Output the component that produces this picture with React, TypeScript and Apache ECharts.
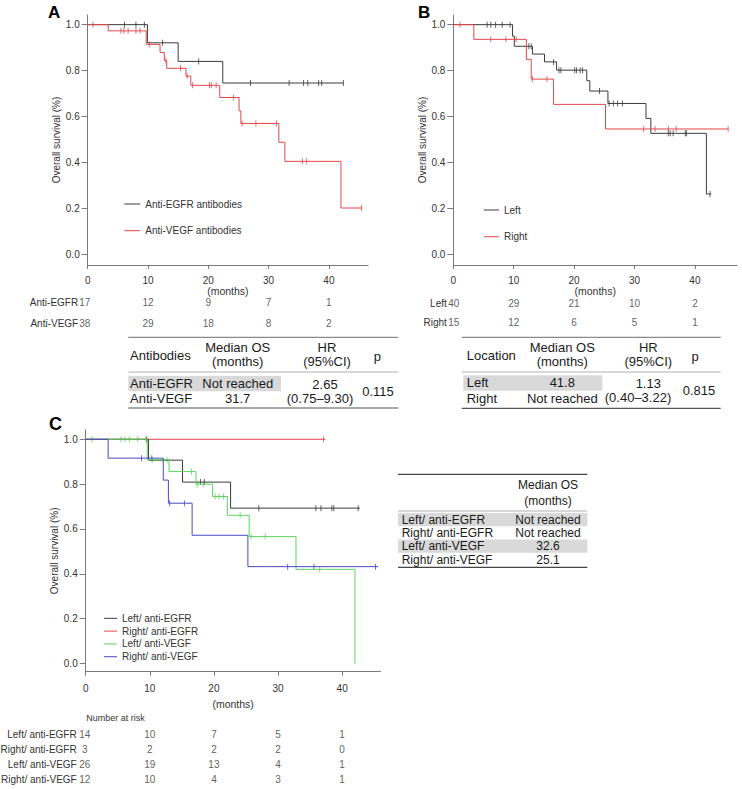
import React, { useEffect, useRef } from "react";
import * as echarts from "echarts";

// ---------- Panel A : antibodies ----------
const A_EGFR_T = [0, 9.9, 15.0, 22.4, 42.4];
const A_EGFR_S = [1, 0.921, 0.84, 0.746, 0.746];
const A_EGFR_C = [6.1, 8.0, 9.4, 12.4, 18.4, 27.0, 33.4, 35.8, 36.5, 38.3, 38.8, 42.4];
const A_VEGF_T = [0, 3.4, 9.7, 12.0, 12.7, 13.1, 16.3, 17.1, 21.9, 25.1, 25.4, 31.7, 32.7, 42.0, 45.4];
const A_VEGF_S = [1, 0.973, 0.914, 0.879, 0.844, 0.81, 0.776, 0.736, 0.683, 0.625, 0.57, 0.488, 0.405, 0.202, 0.202];
const A_VEGF_C = [0.9, 5.5, 6.0, 6.7, 8.0, 8.7, 10.2, 12.95, 15.4, 16.5, 17.4, 20.2, 20.5, 21.3, 24.2, 25.6, 27.9, 31.3, 35.6, 36.3, 45.4];
const A_NAMES = ["Anti-EGFR antibodies", "Anti-VEGF antibodies"];
const A_RISK_ROWS = ["Anti-EGFR", "Anti-VEGF"];
const A_RISK = [
  [17, 12, 9, 7, 1],
  [38, 29, 18, 8, 2],
];
const A_TABLE_HEAD = ["Antibodies", "Median OS\n(months)", "HR\n(95%CI)", "p"];
const A_TABLE_ROWS = [
  ["Anti-EGFR", "Not reached"],
  ["Anti-VEGF", "31.7"],
];
const A_HR = ["2.65", "(0.75–9.30)"];
const A_P = "0.115";

// ---------- Panel B : location ----------
const B_LEFT_T = [0, 9.8, 10.1, 13.1, 15.1, 17.1, 22.1, 22.6, 25.6, 31.9, 32.7, 41.9, 42.7];
const B_LEFT_S = [1, 0.95, 0.906, 0.872, 0.838, 0.802, 0.756, 0.711, 0.657, 0.592, 0.527, 0.263, 0.263];
const B_LEFT_C = [5.6, 6.2, 7.0, 8.1, 9.4, 12.5, 12.9, 16.6, 17.5, 17.8, 20.1, 20.4, 21.0, 21.4, 24.2, 25.8, 26.5, 27.2, 28.0, 35.6, 35.9, 36.4, 38.4, 38.6, 42.5];
const B_RIGHT_T = [0, 3.4, 12.1, 12.9, 16.6, 25.2, 45.5];
const B_RIGHT_S = [1, 0.936, 0.849, 0.763, 0.653, 0.546, 0.546];
const B_RIGHT_C = [1.1, 6.2, 8.7, 10.4, 13.1, 15.5, 31.5, 33.4, 35.6, 36.9, 45.5];
const B_NAMES = ["Left", "Right"];
const B_RISK_ROWS = ["Left", "Right"];
const B_RISK = [
  [40, 29, 21, 10, 2],
  [15, 12, 6, 5, 1],
];
const B_TABLE_HEAD = ["Location", "Median OS\n(months)", "HR\n(95%CI)", "p"];
const B_TABLE_ROWS = [
  ["Left", "41.8"],
  ["Right", "Not reached"],
];
const B_HR = ["1.13", "(0.40–3.22)"];
const B_P = "0.815";

// ---------- Panel C : location x antibody ----------
const C_LE_T = [0, 9.8, 15.1, 22.6, 42.8];
const C_LE_S = [1, 0.907, 0.809, 0.693, 0.693];
const C_LE_C = [9.5, 17.9, 18.5, 27.0, 35.9, 36.7, 38.4, 38.7, 42.5];
const C_RE_T = [0, 37.4];
const C_RE_S = [1, 1];
const C_RE_C = [37.1];
const C_LV_T = [0, 9.6, 13.0, 17.2, 19.8, 22.1, 25.5, 32.8, 42.0];
const C_LV_S = [1, 0.909, 0.856, 0.8, 0.745, 0.661, 0.566, 0.42, 0];
const C_LV_C = [1.0, 5.5, 6.1, 6.8, 8.1, 9.4, 10.4, 12.7, 16.5, 17.4, 18.4, 20.2, 20.8, 21.5, 24.1, 25.8, 28.0, 36.5];
const C_RV_T = [0, 3.5, 12.1, 12.9, 16.6, 25.3, 45.6];
const C_RV_S = [1, 0.916, 0.818, 0.715, 0.572, 0.432, 0.432];
const C_RV_C = [8.7, 10.3, 13.1, 15.4, 31.5, 35.6, 45.2];
const C_NAMES = ["Left/ anti-EGFR", "Right/ anti-EGFR", "Left/ anti-VEGF", "Right/ anti-VEGF"];
const C_RISK = [
  [14, 10, 7, 5, 1],
  [3, 2, 2, 2, 0],
  [26, 19, 13, 4, 1],
  [12, 10, 4, 3, 1],
];
const C_TABLE_HEAD = "Median OS\n(months)";
const C_TABLE_VALUES = ["Not reached", "Not reached", "32.6", "25.1"];

const RISK_T = [0, 10, 20, 30, 40];
const X_TICKS = [0, 10, 20, 30, 40];
const Y_TICKS = [0, 0.2, 0.4, 0.6, 0.8, 1.0];

// ---------- styles ----------
const FONT = '"Liberation Sans", Arial, Helvetica, sans-serif';
const AXIS = "#7a7a7a";
const TXT = "#333333";
const BLACK = "#3c3c3c";
const RED = "#e5474b";
const GREEN = "#5fd35f";
const BLUE = "#4848c4";
const GRAY_FILL = "#d9d9d9";

function survAt(T: number[], S: number[], t: number) {
  let v = S[0];
  for (let i = 0; i < T.length; i++) if (T[i] <= t) v = S[i];
  return v;
}

function km(name: string, T: number[], S: number[], C: number[], color: string, idx: number) {
  return [
    {
      type: "line",
      name,
      xAxisIndex: idx,
      yAxisIndex: idx,
      data: T.map((t, i) => [t, S[i]]),
      step: "end",
      showSymbol: false,
      symbol: "none",
      lineStyle: { color, width: 1 },
      itemStyle: { color },
      silent: true,
    },
    {
      type: "scatter",
      xAxisIndex: idx,
      yAxisIndex: idx,
      data: C.map((t) => [t, survAt(T, S, t)]),
      symbol: "rect",
      symbolSize: [1, 6],
      itemStyle: { color },
      silent: true,
    },
  ];
}

function risk(counts: number[][], idx: number, firstShift: number) {
  const data: any[] = [];
  counts.forEach((row, r) =>
    row.forEach((c, j) =>
      data.push(
        j === 0
          ? { value: [RISK_T[j], r, c], label: { offset: [firstShift, 0] } }
          : { value: [RISK_T[j], r, c] }
      )
    )
  );
  return {
    type: "scatter",
    xAxisIndex: idx,
    yAxisIndex: idx,
    data,
    symbolSize: 1,
    itemStyle: { color: "rgba(0,0,0,0)" },
    label: {
      show: true,
      position: "inside",
      formatter: (p: any) => String(p.value[2]),
      fontSize: 10,
      color: TXT,
      fontFamily: FONT,
    },
    silent: true,
  };
}

function kmX(gridIndex: number, max: number, nameGap: number, margin: number) {
  return {
    type: "value",
    gridIndex,
    min: 0,
    max,
    axisLine: { show: true, onZero: false, lineStyle: { color: AXIS, width: 1 } },
    axisTick: { show: true, length: 4, customValues: X_TICKS, lineStyle: { color: AXIS } },
    axisLabel: { customValues: X_TICKS, margin, fontSize: 10, color: TXT, fontFamily: FONT },
    splitLine: { show: false },
    name: "(months)",
    nameLocation: "middle",
    nameGap,
    nameTextStyle: { fontSize: 10.5, color: TXT, fontFamily: FONT },
  };
}

function kmY(gridIndex: number, min: number, max: number) {
  return {
    type: "value",
    gridIndex,
    min,
    max,
    axisLine: { show: true, onZero: false, lineStyle: { color: AXIS, width: 1 } },
    axisTick: { show: true, length: 6, customValues: Y_TICKS, lineStyle: { color: AXIS } },
    axisLabel: {
      customValues: Y_TICKS,
      margin: 8,
      fontSize: 10,
      color: TXT,
      fontFamily: FONT,
      formatter: (v: number) => v.toFixed(1),
    },
    splitLine: { show: false },
    name: "Overall survival (%)",
    nameLocation: "middle",
    nameGap: 26,
    nameTextStyle: { fontSize: 10, color: TXT, fontFamily: FONT },
  };
}

function riskX(gridIndex: number, max: number) {
  return { type: "value", gridIndex, min: 0, max, show: false };
}

function riskY(gridIndex: number, rows: string[], margin: number) {
  return {
    type: "category",
    gridIndex,
    data: rows,
    inverse: true,
    axisLine: { show: false },
    axisTick: { show: false },
    axisLabel: { fontSize: 10, color: TXT, margin, fontFamily: FONT },
    splitLine: { show: false },
  };
}

function legend(names: string[], left: number, top: number, gap: number, iconW: number) {
  return {
    data: names,
    left,
    top,
    orient: "vertical",
    icon: "rect",
    itemWidth: iconW,
    itemHeight: 1,
    itemGap: gap,
    padding: 0,
    selectedMode: false,
    textStyle: { fontSize: 10, lineHeight: 12, color: TXT, fontFamily: FONT },
  };
}

function txt(text: string, x: number, y: number, size: number, align = "left", extra: any = {}) {
  return {
    type: "text",
    x,
    y,
    silent: true,
    style: {
      text,
      fill: "#1a1a1a",
      fontSize: size,
      fontFamily: FONT,
      align,
      verticalAlign: "middle",
      lineHeight: size,
      ...extra,
    },
  };
}

function hline(x1: number, x2: number, y: number, color: string, w = 1) {
  return { type: "line", silent: true, shape: { x1, y1: y, x2, y2: y }, style: { stroke: color, lineWidth: w } };
}

function rect(x: number, y: number, width: number, height: number) {
  return { type: "rect", silent: true, shape: { x, y, width, height }, style: { fill: GRAY_FILL } };
}

function buildGraphics() {
  const g: any[] = [];
  // panel letters
  g.push(txt("A", 48, 12.5, 17, "left", { fontWeight: "bold", fill: "#000" }));
  g.push(txt("B", 418, 12.5, 17, "left", { fontWeight: "bold", fill: "#000" }));
  g.push(txt("C", 49, 424, 18, "left", { fontWeight: "bold", fill: "#000" }));
  g.push(txt("Number at risk", 115.5, 717.7, 9, "center", { fill: TXT }));

  // table A
  g.push(rect(128.3, 375.8, 152.7, 15.5));
  g.push(hline(128.3, 398.3, 337.3, "#8a8a8a", 1.2));
  g.push(hline(128.3, 398.3, 372, "#b0b0b0", 1));
  g.push(hline(128.3, 398.3, 408, "#555", 1.2));
  g.push(txt(A_TABLE_HEAD[0], 130, 355, 13));
  g.push(txt(A_TABLE_HEAD[1], 237.7, 354.5, 13, "center", { lineHeight: 14.4 }));
  g.push(txt(A_TABLE_HEAD[2], 327, 354.5, 13, "center", { lineHeight: 14.4 }));
  g.push(txt(A_TABLE_HEAD[3], 377.3, 356, 13, "center"));
  const aRowY = [383.4, 398];
  A_TABLE_ROWS.forEach((r, i) => {
    g.push(txt(r[0], 130, aRowY[i], 13));
    g.push(txt(r[1], 237.7, aRowY[i], 13, "center"));
  });
  g.push(txt(A_HR[0], 325, 384, 13, "center"));
  g.push(txt(A_HR[1], 320, 398, 13, "center"));
  g.push(txt(A_P, 378, 391, 13, "center"));

  // table B
  g.push(rect(463.3, 375.3, 139, 15.5));
  g.push(hline(461.7, 720.7, 337.3, "#8a8a8a", 1.2));
  g.push(hline(461.7, 720.7, 372, "#b0b0b0", 1));
  g.push(hline(461.7, 720.7, 408.3, "#555", 1.2));
  g.push(txt(B_TABLE_HEAD[0], 466.7, 355, 13));
  g.push(txt(B_TABLE_HEAD[1], 562.3, 354.5, 13, "center", { lineHeight: 14.4 }));
  g.push(txt(B_TABLE_HEAD[2], 648.3, 354.5, 13, "center", { lineHeight: 14.4 }));
  g.push(txt(B_TABLE_HEAD[3], 695, 356, 13, "center"));
  const bRowY = [382.8, 398.3];
  B_TABLE_ROWS.forEach((r, i) => {
    g.push(txt(r[0], 466.7, bRowY[i], 13));
    g.push(txt(r[1], 562.3, bRowY[i], 13, "center"));
  });
  g.push(txt(B_HR[0], 648.3, 383.5, 13, "center"));
  g.push(txt(B_HR[1], 638, 397.2, 13, "center"));
  g.push(txt(B_P, 699, 390, 13, "center"));

  // table C
  const cRowY = [519.6, 532.9, 546.2, 559.5];
  g.push(rect(398, cRowY[0] - 6.65, 189.3, 13.3));
  g.push(rect(398, cRowY[2] - 6.65, 189.3, 13.3));
  g.push(hline(398, 587.3, 474.3, "#444", 1.2));
  g.push(hline(398, 587.3, 511, "#b0b0b0", 1));
  g.push(hline(398, 587.3, 567.3, "#444", 1.2));
  g.push(txt(C_TABLE_HEAD, 548, 493, 12, "center", { lineHeight: 16 }));
  C_NAMES.forEach((n, i) => {
    g.push(txt(n, 401.7, cRowY[i], 12));
    g.push(txt(C_TABLE_VALUES[i], 548, cRowY[i], 12, "center"));
  });
  return g;
}

function buildOption() {
  const series: any[] = [
    ...km(A_NAMES[0], A_EGFR_T, A_EGFR_S, A_EGFR_C, BLACK, 0),
    ...km(A_NAMES[1], A_VEGF_T, A_VEGF_S, A_VEGF_C, RED, 0),
    risk(A_RISK, 1, -3),
    ...km(B_NAMES[0], B_LEFT_T, B_LEFT_S, B_LEFT_C, BLACK, 2),
    ...km(B_NAMES[1], B_RIGHT_T, B_RIGHT_S, B_RIGHT_C, RED, 2),
    risk(B_RISK, 3, 0.5),
    ...km(C_NAMES[1], C_RE_T, C_RE_S, C_RE_C, RED, 4),
    ...km(C_NAMES[0], C_LE_T, C_LE_S, C_LE_C, BLACK, 4),
    ...km(C_NAMES[2], C_LV_T, C_LV_S, C_LV_C, GREEN, 4),
    ...km(C_NAMES[3], C_RV_T, C_RV_S, C_RV_C, BLUE, 4),
    risk(C_RISK, 5, -1),
  ];
  return {
    animation: false,
    backgroundColor: "#ffffff",
    textStyle: { fontFamily: FONT },
    grid: [
      { left: 87.7, top: 15, width: 280.4, height: 250, outerBoundsMode: "none" },
      { left: 87.7, top: 292.4, width: 280.4, height: 41.2, outerBoundsMode: "none" },
      { left: 453.3, top: 15, width: 283.9, height: 250, outerBoundsMode: "none" },
      { left: 453.3, top: 293.6, width: 283.9, height: 38.8, outerBoundsMode: "none" },
      { left: 85.7, top: 430, width: 294.9, height: 241.7, outerBoundsMode: "none" },
      { left: 85.7, top: 726.9, width: 294.9, height: 59.6, outerBoundsMode: "none" },
    ],
    xAxis: [
      kmX(0, 46.5, 20.7, 10),
      riskX(1, 46.5),
      kmX(2, 47, 17.3, 10),
      riskX(3, 47),
      kmX(4, 46, 26.3, 12),
      riskX(5, 46),
    ],
    yAxis: [
      kmY(0, -0.046, 1.042),
      riskY(1, A_RISK_ROWS, 9.5),
      kmY(2, -0.046, 1.042),
      riskY(3, B_RISK_ROWS, 6.5),
      kmY(4, -0.0366, 1.0415),
      riskY(5, C_NAMES, 9),
    ],
    legend: [
      legend(A_NAMES, 124.3, 198, 14.7, 16),
      legend(B_NAMES, 484, 204, 14.7, 15),
      legend(C_NAMES, 104, 612.3, 0.8, 13),
    ],
    graphic: buildGraphics(),
    series,
  };
}

export default function App() {
  const ref = useRef<HTMLDivElement>(null);
  useEffect(() => {
    if (!ref.current) return;
    const chart = echarts.init(ref.current, null, { renderer: "svg" });
    chart.setOption(buildOption() as any);
    return () => chart.dispose();
  }, []);
  return (
    <div
      ref={ref}
      style={{ position: "absolute", left: 0, top: 0, width: 742, height: 789, background: "#fff" }}
    />
  );
}
